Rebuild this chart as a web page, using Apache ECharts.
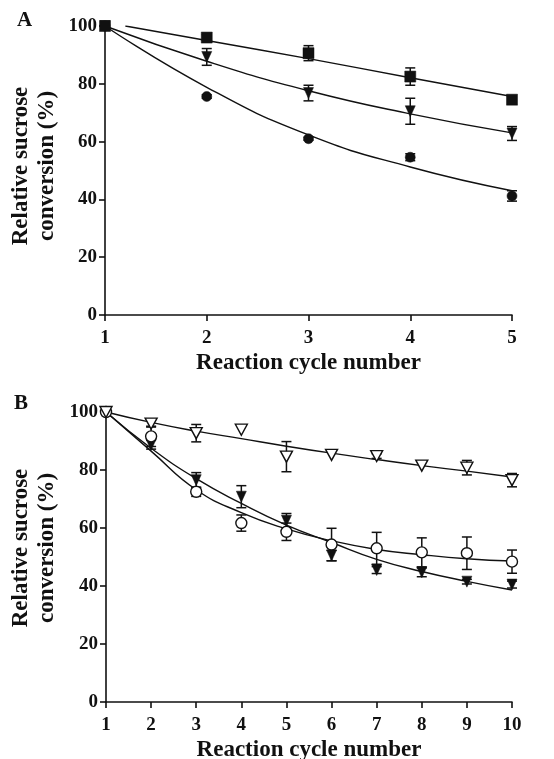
<!DOCTYPE html>
<html>
<head>
<meta charset="utf-8">
<script src="https://cdn.jsdelivr.net/npm/echarts@6/dist/echarts.min.js"></script>
<style>html,body{margin:0;padding:0;background:#fff;}#c{width:554px;height:759px;}</style>
</head>
<body>
<div id="c"></div>
<script>
// ---------- Panel A data ----------
const cyclesA = [1, 2, 3, 4, 5];
const squaresA = [100, 96.0, 90.6, 82.5, 74.5];
const squaresErrA = [0, 1.0, 2.6, 3.0, 0.8];
const trianglesA = [100, 89.3, 76.8, 70.5, 62.8];
const trianglesErrA = [0, 2.9, 2.7, 4.5, 2.4];
const circlesA = [100, 75.6, 61.0, 54.6, 41.2];
const circlesErrA = [0, 0.6, 0.5, 1.2, 1.8];
const fitSquaresAX = [1.2, 2, 3, 4, 5];
const fitSquaresA = [100, 95.0, 88.7, 82.1, 75.6];
const fitTrianglesA = [100, 87.8, 77.6, 69.6, 63.0];
const fitCirclesA = [100, 78.8, 62.3, 51.2, 43.0];

// ---------- Panel B data ----------
const cyclesB = [1, 2, 3, 4, 5, 6, 7, 8, 9, 10];
const openTriB = [100, 96.0, 92.7, 93.9, 84.6, 85.2, 84.8, 81.5, 80.8, 76.5];
const openTriErrB = [0, 1.2, 3.0, 0, 5.2, 0, 0.8, 0, 2.5, 2.3];
const filledTriB = [100, 88.7, 76.5, 70.8, 62.5, 50.5, 45.5, 44.7, 41.5, 40.5];
const filledTriErrB = [0, 1.5, 2.6, 3.8, 2.5, 1.8, 1.2, 1.5, 0.8, 1.2];
const openCircB = [100, 91.6, 72.5, 61.7, 58.7, 54.3, 53.0, 51.6, 51.3, 48.4];
const openCircErrB = [0, 3.5, 1.6, 2.8, 3.0, 5.6, 5.5, 5.0, 5.6, 4.0];
const fitOpenTriB = [100, 96.4, 93.4, 90.8, 88.2, 85.8, 83.6, 81.5, 79.6, 77.6];
const fitFilledTriB = [100, 87.5, 77.0, 68.5, 61.0, 55.0, 49.2, 45.0, 41.6, 38.6];
const fitOpenCircB = [100, 86.5, 73.2, 65.3, 59.7, 55.6, 52.6, 50.8, 49.4, 48.6];

const yTicks = [0, 20, 40, 60, 80, 100];
const xTitle = 'Reaction cycle number';
const yTitle1 = 'Relative sucrose';
const yTitle2 = 'conversion (%)';

const FONT = '"Liberation Serif", "Times New Roman", serif';
const INK = '#111';
const downTri = 'path://M0,0L10,0L5,10Z';

function zip(xs, ys) { return xs.map((x, i) => [x, ys[i]]); }
function zip3(xs, ys, es) { return xs.map((x, i) => [x, ys[i], es[i]]); }

function errRender(params, api) {
  const x = api.value(0), y = api.value(1), e = api.value(2);
  if (!e) return { type: 'group', children: [] };
  const t = api.coord([x, y + e]), b = api.coord([x, y - e]);
  const w = 5;
  const st = { stroke: INK, lineWidth: 1.5 };
  return { type: 'group', children: [
    { type: 'line', shape: { x1: t[0], y1: t[1], x2: b[0], y2: b[1] }, style: st },
    { type: 'line', shape: { x1: t[0] - w, y1: t[1], x2: t[0] + w, y2: t[1] }, style: st },
    { type: 'line', shape: { x1: b[0] - w, y1: b[1], x2: b[0] + w, y2: b[1] }, style: st }
  ]};
}

function errSeries(idx, xs, ys, es) {
  return { type: 'custom', xAxisIndex: idx, yAxisIndex: idx, renderItem: errRender,
    encode: { x: 0, y: 1 }, data: zip3(xs, ys, es), z: 3, silent: true };
}
function fitSeries(idx, xs, ys) {
  return { type: 'line', xAxisIndex: idx, yAxisIndex: idx, data: zip(xs, ys), smooth: true,
    showSymbol: false, lineStyle: { color: INK, width: 1.4 }, z: 2, silent: true };
}
function markSeries(idx, xs, ys, symbol, size, fill, z) {
  return { type: 'scatter', xAxisIndex: idx, yAxisIndex: idx, data: zip(xs, ys), symbol: symbol,
    symbolSize: size, itemStyle: { color: fill, borderColor: INK, borderWidth: fill === '#fff' ? 1.4 : 0.5, opacity: 1 },
    z: z || 4, silent: true };
}

function xAxis(idx, max) {
  return { type: 'value', gridIndex: idx, min: 1, max: max, interval: 1,
    axisLine: { show: true, lineStyle: { color: INK, width: 1.6 } },
    axisTick: { show: true, inside: false, length: 6, lineStyle: { color: INK, width: 1.6 } },
    axisLabel: { color: INK, fontFamily: FONT, fontWeight: 'bold', fontSize: 19, margin: 14 },
    splitLine: { show: false },
    name: xTitle, nameLocation: 'middle', nameGap: 37,
    nameTextStyle: { color: INK, fontFamily: FONT, fontWeight: 'bold', fontSize: 23 } };
}
function yAxis(idx) {
  return { type: 'value', gridIndex: idx, min: 0, max: 100, interval: 20,
    axisLine: { show: true, lineStyle: { color: INK, width: 1.6 } },
    axisTick: { show: true, inside: false, length: 6, lineStyle: { color: INK, width: 1.6 } },
    axisLabel: { color: INK, fontFamily: FONT, fontWeight: 'bold', fontSize: 19, margin: 8,
      formatter: v => yTicks.indexOf(v) >= 0 ? String(v) : '' },
    splitLine: { show: false } };
}

function rotText(x, y, text) {
  return { type: 'text', x: x, y: y, rotation: Math.PI / 2,
    style: { text: text, fill: INK, font: 'bold 23px ' + FONT, align: 'center', verticalAlign: 'middle' } };
}

const chart = echarts.init(document.getElementById('c'), null, { renderer: 'canvas' });
chart.setOption({
  backgroundColor: '#fff',
  animation: false,
  grid: [
    { left: 105, right: 42, top: 26, height: 289, outerBoundsMode: 'none', containLabel: false },
    { left: 106, right: 42, top: 412, height: 290, outerBoundsMode: 'none', containLabel: false }
  ],
  xAxis: [xAxis(0, 5), xAxis(1, 10)],
  yAxis: [yAxis(0), yAxis(1)],
  graphic: [
    { type: 'text', left: 17, top: 10, style: { text: 'A', fill: INK, font: 'bold 21px ' + FONT } },
    { type: 'text', left: 14, top: 393, style: { text: 'B', fill: INK, font: 'bold 21px ' + FONT } },
    rotText(21, 166, yTitle1), rotText(47, 166, yTitle2),
    rotText(21, 548, yTitle1), rotText(47, 548, yTitle2)
  ],
  series: [
    fitSeries(0, fitSquaresAX, fitSquaresA),
    fitSeries(0, cyclesA, fitTrianglesA),
    fitSeries(0, cyclesA, fitCirclesA),
    errSeries(0, cyclesA, squaresA, squaresErrA),
    errSeries(0, cyclesA, trianglesA, trianglesErrA),
    errSeries(0, cyclesA, circlesA, circlesErrA),
    markSeries(0, cyclesA, circlesA, 'circle', 10, INK, 4),
    markSeries(0, cyclesA, trianglesA, downTri, [10, 11], INK, 5),
    markSeries(0, cyclesA, squaresA, 'rect', 11, INK, 6),

    fitSeries(1, cyclesB, fitOpenTriB),
    fitSeries(1, cyclesB, fitFilledTriB),
    fitSeries(1, cyclesB, fitOpenCircB),
    errSeries(1, cyclesB, openTriB, openTriErrB),
    errSeries(1, cyclesB, filledTriB, filledTriErrB),
    errSeries(1, cyclesB, openCircB, openCircErrB),
    markSeries(1, cyclesB, filledTriB, downTri, [10, 11], INK, 4),
    markSeries(1, cyclesB, openCircB, 'circle', 11, '#fff', 5),
    markSeries(1, cyclesB, openTriB, downTri, [12, 11], '#fff', 6)
  ]
});
</script>
</body>
</html>
